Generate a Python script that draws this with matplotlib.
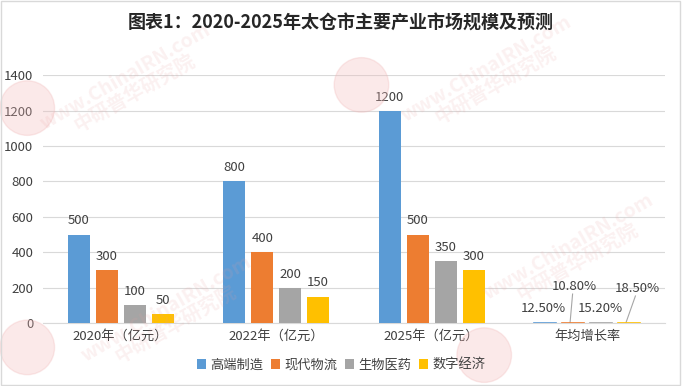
import numpy as np
import matplotlib.pyplot as plt
from matplotlib.patches import Ellipse

plt.rcParams['font.family'] = ['Noto Sans CJK SC', 'DejaVu Sans']

categories = ['2020年（亿元）', '2022年（亿元）', '2025年（亿元）', '年均增长率']
series_names = ['高端制造', '现代物流', '生物医药', '数字经济']
colors = ['#5B9BD5', '#ED7D31', '#A5A5A5', '#FFC000']

gaoduan = [500, 800, 1200, 0.125]
wuliu = [300, 400, 500, 0.108]
shengwu = [100, 200, 350, 0.152]
shuzi = [50, 150, 300, 0.185]
rate_labels = ['12.50%', '10.80%', '15.20%', '18.50%']

series = [gaoduan, wuliu, shengwu, shuzi]

fig = plt.figure(figsize=(6.82, 3.86), dpi=100)

# watermarks (drawn first, behind everything)
for (wx, wy) in [(0.19, 0.78), (0.72, 0.80), (0.25, 0.18), (0.84, 0.34)]:
    fig.text(wx, wy, 'www.ChinaIRN.com\n中研普华研究院', rotation=30, ha='center',
             va='center', fontsize=14, fontweight='bold', color='#E8A0A0',
             alpha=0.15, linespacing=0.9, zorder=0)
r = 0.04
for (cx, cy) in [(0.04, 0.72), (0.53, 0.78), (0.04, 0.10), (0.71, 0.08)]:
    fig.patches.append(Ellipse((cx, cy), 2 * r, 2 * r * 682 / 386,
                               transform=fig.transFigure, color='#F2B8B8',
                               alpha=0.3, zorder=0))

ax = fig.add_axes([0.063, 0.163, 0.912, 0.642])
ax.patch.set_alpha(0)

x = np.arange(len(categories))
w = 0.142
step = 0.18
txt = '#404040'

for i, (name, vals, c) in enumerate(zip(series_names, series, colors)):
    pos = x + (i - 1.5) * step
    ax.bar(pos, vals, w, color=c, label=name, zorder=3)
    for j in range(3):
        ax.text(pos[j], vals[j] + 40, str(vals[j]), ha='center', va='bottom',
                fontsize=9.5, color=txt)

# growth-rate labels with leader lines
gpos = x[3] + (np.arange(4) - 1.5) * step
offsets = [(-0.013, 85), (0.006, 209), (-0.006, 85), (0.05, 198)]
for k in range(4):
    dx, ly = offsets[k]
    ax.text(gpos[k] + dx, ly, rate_labels[k], ha='center', va='center',
            fontsize=9.5, color=txt)
    if ly > 150:
        ax.plot([gpos[k] + dx - 0.01, gpos[k] - 0.02], [ly - 45, 4],
                color='#A6A6A6', lw=0.8, zorder=4)
    ax.plot([gpos[k] - w / 2, gpos[k] + w / 2], [1.5, 1.5], color=colors[k],
            lw=1.2, zorder=4)

ax.set_xlim(-0.5, 3.5)
ax.set_ylim(0, 1400)
ax.set_yticks(range(0, 1401, 200))
ax.set_xticks(x)
ax.set_xticklabels(categories)
ax.tick_params(axis='both', length=0, labelsize=9.5, labelcolor=txt)
ax.tick_params(axis='x', pad=5)
ax.tick_params(axis='y', pad=7)
ax.grid(axis='y', color='#D9D9D9', lw=0.8, zorder=0)
for s in ['top', 'right', 'left']:
    ax.spines[s].set_visible(False)
ax.spines['bottom'].set_color('#D9D9D9')

fig.suptitle('图表1：2020-2025年太仓市主要产业市场规模及预测', y=0.965,
             fontsize=13, fontweight='bold', color='#262626')

fig.legend(loc='center', bbox_to_anchor=(0.5, 0.054), ncol=4, frameon=False,
           fontsize=9.5, handlelength=0.7, handleheight=0.7, handletextpad=0.3,
           columnspacing=0.6, labelcolor=txt)

fig.patches.append(plt.Rectangle((0.002, 0.003), 0.995, 0.994, transform=fig.transFigure,
                                 fill=False, edgecolor='#D9D9D9', lw=1))

fig.savefig('out.png', dpi=100, facecolor='white')
